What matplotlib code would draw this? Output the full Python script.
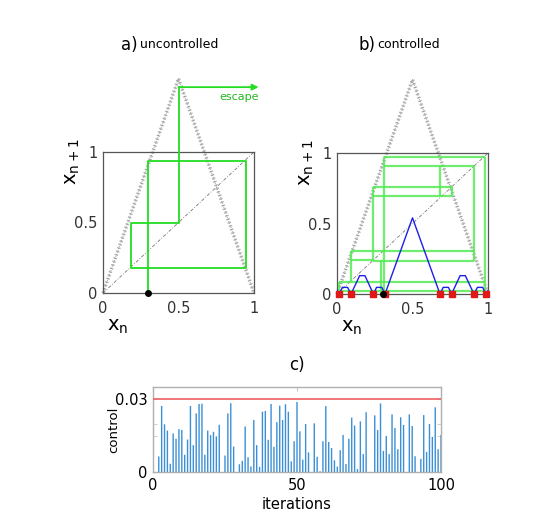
import numpy as np
import matplotlib
matplotlib.use("Agg")
import matplotlib.pyplot as plt

plt.rcParams.update({
    "font.family": "DejaVu Sans",
    "font.size": 10,
    "mathtext.default": "regular",
})

# ---------------------------------------------------------------- data
# tent map (r ~ 3) drawn as speckled band
TENT_X = [0.0, 0.5, 1.0]
TENT_Y = [0.0, 1.52, 0.0]

# panel a: uncontrolled cobweb that escapes
COB_A_X = [0.30, 0.30, 0.945, 0.945, 0.185, 0.185, 0.50, 0.50]
COB_A_Y = [0.0, 0.936, 0.936, 0.177, 0.177, 0.496, 0.496, 1.46]
ESCAPE_Y = 1.46
ESCAPE_X_END = 1.03

# panel b: controlled cobweb segments
H_Y  = [0.974, 0.905, 0.757, 0.693, 0.303, 0.236, 0.240, 0.087, 0.024]
H_X0 = [0.310, 0.310, 0.241, 0.241, 0.093, 0.241, 0.093, 0.015, 0.015]
H_X1 = [0.982, 0.907, 0.760, 0.760, 0.907, 0.907, 0.241, 0.982, 0.982]
V_X  = [0.015, 0.093, 0.241, 0.310, 0.682, 0.760, 0.907, 0.982, 0.290]
V_Y0 = [0.024, 0.087, 0.236, 0.000, 0.693, 0.693, 0.236, 0.024, 0.000]
V_Y1 = [0.087, 0.303, 0.757, 0.974, 0.905, 0.757, 0.905, 0.974, 0.240]

# panel b: controlled map (blue) and its zeros (red)
BLUE_X = [0.0, 0.015, 0.035, 0.070, 0.093, 0.150, 0.185, 0.241, 0.262, 0.297,
          0.318, 0.500, 0.682, 0.703, 0.738, 0.759, 0.815, 0.850, 0.907, 0.930,
          0.965, 0.985, 1.0]
BLUE_Y = [0.025, 0.0, 0.047, 0.047, 0.0, 0.13, 0.13, 0.0, 0.047, 0.047,
          0.0, 0.54, 0.0, 0.047, 0.047, 0.0, 0.13, 0.13, 0.0, 0.047,
          0.047, 0.0, 0.025]
RED_X = [0.015, 0.093, 0.241, 0.318, 0.682, 0.759, 0.907, 0.985]
X0_A = 0.30
X0_B = 0.305

# panel c: control applied per iteration
ITER = np.arange(0, 101)
CONTROL = [
    0, 0, 0.0064, 0.0273, 0.0197, 0.0171, 0.0034, 0.0159, 0.0137, 0.0177,
    0.0174, 0.0071, 0.0134, 0.0273, 0.0111, 0.0242, 0.0281, 0.0282, 0.0071, 0.0171,
    0.0152, 0.0166, 0.0147, 0.0195, 0, 0.0068, 0.0242, 0.0284, 0.0105, 0,
    0.0032, 0.0046, 0.0188, 0.0061, 0.0023, 0.0215, 0.0111, 0.0021, 0.0249, 0.0252,
    0.0133, 0.0281, 0.0104, 0.0206, 0.0274, 0.0215, 0.0280, 0.0249, 0.0044, 0.0127,
    0.0289, 0.0168, 0.0051, 0.0198, 0.0081, 0, 0.0201, 0.0063, 0.0003, 0.0127,
    0.0272, 0.0124, 0.0099, 0.0048, 0.0022, 0.0090, 0.0153, 0.0033, 0.0137, 0.0225,
    0.0192, 0.0012, 0.0209, 0.0074, 0.0247, 0, 0, 0.0234, 0.0173, 0.0283,
    0.0087, 0.0149, 0.0074, 0.0238, 0.0182, 0.0094, 0.0226, 0.0194, 0, 0.0238,
    0.0190, 0.0065, 0, 0.0054, 0.0235, 0.0083, 0.0198, 0.0145, 0.0267, 0.0094,
    0.0153,
]
CONTROL_MAX = 0.03

GREEN = "#22dd22"
GREEN_B = "#55ea55"
BOX = "#555555"

# ---------------------------------------------------------------- figure
fig = plt.figure(figsize=(5.38, 5.13), dpi=100)
W, H = 538, 513


def add_ax(x0, y0, x1, y1):
    # pixel box (top-left origin) -> figure fraction
    return fig.add_axes([x0 / W, 1 - y1 / H, (x1 - x0) / W, (y1 - y0) / H])


def map_axes(ax):
    ax.set_xlim(0, 1)
    ax.set_ylim(0, 1)
    for s in ax.spines.values():
        s.set_color(BOX)
        s.set_linewidth(0.9)
    ax.set_xticks([0, 0.5, 1])
    ax.set_xticklabels(["0", "0.5", "1"])
    ax.set_yticks([0, 0.5, 1])
    ax.set_yticklabels(["0", "0.5", "1"])
    ax.tick_params(length=0, labelsize=10.5, pad=4, colors="#333333")
    ax.tick_params(axis="x", pad=6)
    # tent band (speckled)
    ax.plot(TENT_X, TENT_Y, color="#b4b4b4", lw=2.6, dashes=(0.4, 0.6),
            clip_on=False, zorder=2)
    ax.plot(TENT_X, TENT_Y, color="#7a7a7a", lw=0.7, dashes=(0.6, 1.6),
            clip_on=False, zorder=2)
    ax.plot([0, 1], [0, 1], color="#777777", lw=0.6, dashes=(4, 2, 1, 2), zorder=1)
    ax.text(0.1, -0.17, "x$_n$", transform=ax.transAxes, fontsize=14,
            ha="center", va="top")
    ax.text(-0.2, 0.93, "x$_{n+1}$", transform=ax.transAxes, fontsize=14,
            ha="center", va="center", rotation=90)


# panel a
ax_a = add_ax(103, 152, 254, 293)
map_axes(ax_a)
ax_a.plot(COB_A_X, COB_A_Y, color=GREEN, lw=1.3, clip_on=False, zorder=3)
ax_a.annotate("", xy=(ESCAPE_X_END, ESCAPE_Y), xytext=(COB_A_X[-1], ESCAPE_Y),
              arrowprops=dict(arrowstyle="-|>", color=GREEN, lw=1.3,
                              mutation_scale=9, shrinkA=0, shrinkB=0),
              annotation_clip=False)
ax_a.text(0.9, 1.39, "escape", color="#22b822", fontsize=8, ha="center",
          va="center", clip_on=False)
ax_a.plot([X0_A], [0], "o", color="black", ms=4, clip_on=False, zorder=5)

# panel b
ax_b = add_ax(337, 153, 488, 294)
map_axes(ax_b)
ax_b.hlines(H_Y, H_X0, H_X1, color=GREEN_B, lw=1.6, alpha=0.85, zorder=3)
ax_b.vlines(V_X, V_Y0, V_Y1, color=GREEN_B, lw=1.6, alpha=0.85, zorder=3)
ax_b.plot(BLUE_X, BLUE_Y, color="#1f1fe8", lw=1.0, zorder=4)
ax_b.plot(RED_X, [0] * len(RED_X), "s", color="#e01818", ms=4,
          clip_on=False, zorder=5)
ax_b.plot([X0_B], [0], "o", color="black", ms=4, clip_on=False, zorder=6)

# titles a) b)
fig.text(129 / W, 1 - 45 / H, "a)", fontsize=12, ha="center", va="center")
fig.text(140 / W, 1 - 45 / H, "uncontrolled", fontsize=9, ha="left", va="center")
fig.text(367 / W, 1 - 45 / H, "b)", fontsize=12, ha="center", va="center")
fig.text(377 / W, 1 - 45 / H, "controlled", fontsize=9, ha="left", va="center")

# panel c
ax_c = add_ax(153, 387, 441, 472)
ax_c.vlines(ITER, 0, CONTROL, color="#3b8fd4", lw=1.0, snap=False, zorder=2)
ax_c.axhline(CONTROL_MAX, color="#f06060", lw=1.2, zorder=3)
ax_c.set_xlim(0, 100)
ax_c.set_ylim(0, 0.0351)
ax_c.set_xticks([0, 50, 100])
ax_c.set_yticks([0, 0.03])
ax_c.set_yticklabels(["0", "0.03"])
ax_c.set_yticks([0.015, 0.02], minor=True)
for s in ax_c.spines.values():
    s.set_color("#b0b0b0")
    s.set_linewidth(1.0)
ax_c.tick_params(which="both", direction="in", length=3, color="#c8c8c8",
                 top=True, right=True, labelsize=10.5, pad=4)
ax_c.tick_params(axis="x", bottom=False)
ax_c.set_xlabel("iterations", fontsize=10.5, labelpad=3)
ax_c.set_ylabel("control", fontsize=9.5, labelpad=-4)
ax_c.set_title("c)", fontsize=12, pad=12)

fig.savefig("out.png", dpi=100)
